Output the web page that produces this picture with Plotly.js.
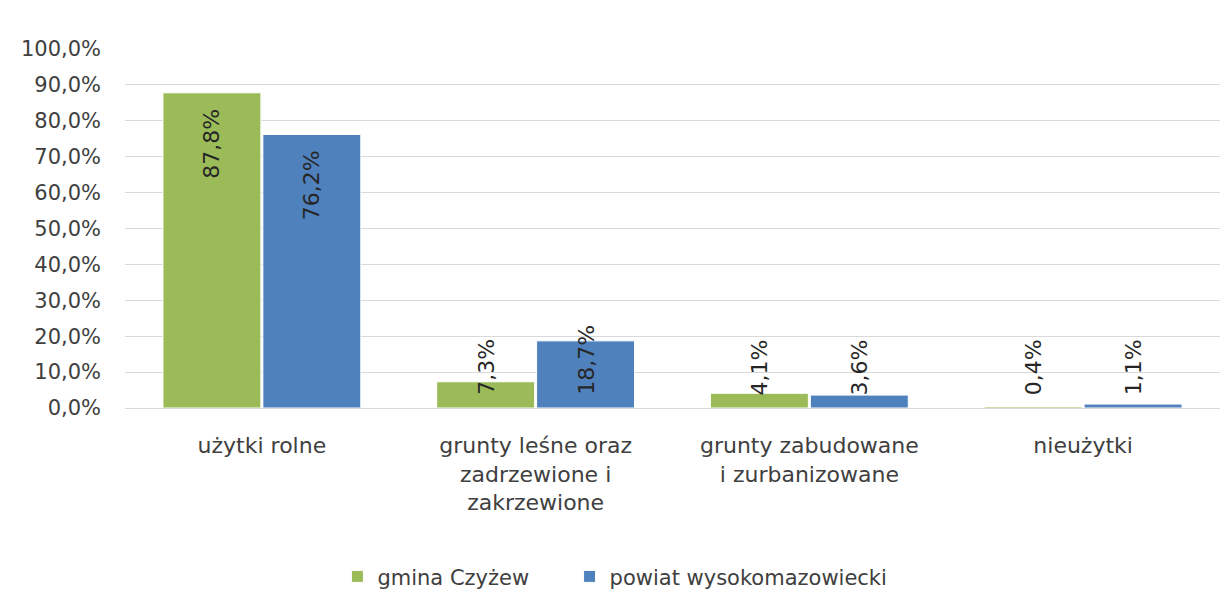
<!DOCTYPE html>
<html>
<head>
<meta charset="utf-8">
<script src="https://cdn.plot.ly/plotly-3.0.1.min.js"></script>
<style>html,body{margin:0;padding:0;background:#fff;}#chart{width:1230px;height:610px;}</style>
</head>
<body>
<div id="chart"></div>
<script>
const categories = [
  "użytki rolne",
  "grunty leśne oraz<br>zadrzewione i<br>zakrzewione",
  "grunty zabudowane<br>i zurbanizowane",
  "nieużytki"
];
const seriesNames = ["gmina Czyżew", "powiat wysokomazowiecki"];
const gminaValues = [87.8, 7.3, 4.1, 0.4];
const powiatValues = [76.2, 18.7, 3.6, 1.1];
const yTickValues = [0, 10, 20, 30, 40, 50, 60, 70, 80, 90, 100];

const fmt = v => v.toFixed(1).replace('.', ',') + '%';
const FONT = "DejaVu Sans, sans-serif";
const colors = ['#9BBB59', '#4F81BD'];

const W = 1230, H = 610;
const M = {l: 125, r: 10, t: 49, b: 202};
const yRange = [0, 100];
const pxPerUnit = (H - M.t - M.b) / (yRange[1] - yRange[0]);

function makeTrace(name, vals, color, legendId) {
  return {
    type: 'bar',
    name: name,
    x: categories,
    y: vals,
    legend: legendId,
    marker: {color: color, line: {color: '#ffffff', width: 1}},
    hoverinfo: 'none'
  };
}

const data = [
  makeTrace(seriesNames[0], gminaValues, colors[0], 'legend'),
  makeTrace(seriesNames[1], powiatValues, colors[1], 'legend2')
];

// data labels (rotated), Excel-like placement
const annotations = [];
[gminaValues, powiatValues].forEach((vals, s) => {
  const shift = s === 0 ? -50 : 50;
  vals.forEach((v, i) => {
    const inside = v * pxPerUnit > 100;
    annotations.push({
      x: categories[i], xref: 'x',
      y: inside ? v : 0, yref: 'y',
      xshift: shift,
      yshift: inside ? -14 : 11,
      yanchor: inside ? 'top' : 'bottom',
      xanchor: 'center',
      text: fmt(v),
      textangle: -90,
      showarrow: false,
      font: {family: FONT, size: 22, color: '#262626'}
    });
  });
});

const legendBase = {
  orientation: 'h',
  xanchor: 'left',
  y: -0.47, yanchor: 'middle',
  font: {family: FONT, size: 21, color: '#404040'},
  itemwidth: 30
};

const layout = {
  width: W,
  height: H,
  margin: M,
  paper_bgcolor: '#ffffff',
  plot_bgcolor: '#ffffff',
  font: {family: FONT, size: 21, color: '#404040'},
  barmode: 'group',
  bargap: 0.27,
  bargroupgap: 0.02,
  showlegend: true,
  legend: Object.assign({}, legendBase, {x: 0.194}),
  legend2: Object.assign({}, legendBase, {x: 0.406}),
  annotations: annotations,
  xaxis: {
    type: 'category',
    showgrid: false,
    showline: false,
    ticks: '',
    ticklabelstandoff: 22,
    tickfont: {family: FONT, size: 22, color: '#404040'},
    automargin: false
  },
  yaxis: {
    range: yRange,
    tickvals: yTickValues,
    ticktext: yTickValues.map(fmt),
    showgrid: true,
    gridcolor: '#d9d9d9',
    gridwidth: 1,
    zeroline: true,
    zerolinecolor: '#d9d9d9',
    showline: false,
    ticks: '',
    ticklen: 0,
    ticklabelstandoff: 23,
    tickfont: {family: FONT, size: 21, color: '#404040'},
    automargin: false
  }
};

Plotly.newPlot('chart', data, layout, {displayModeBar: false, staticPlot: true});
</script>
</body>
</html>
